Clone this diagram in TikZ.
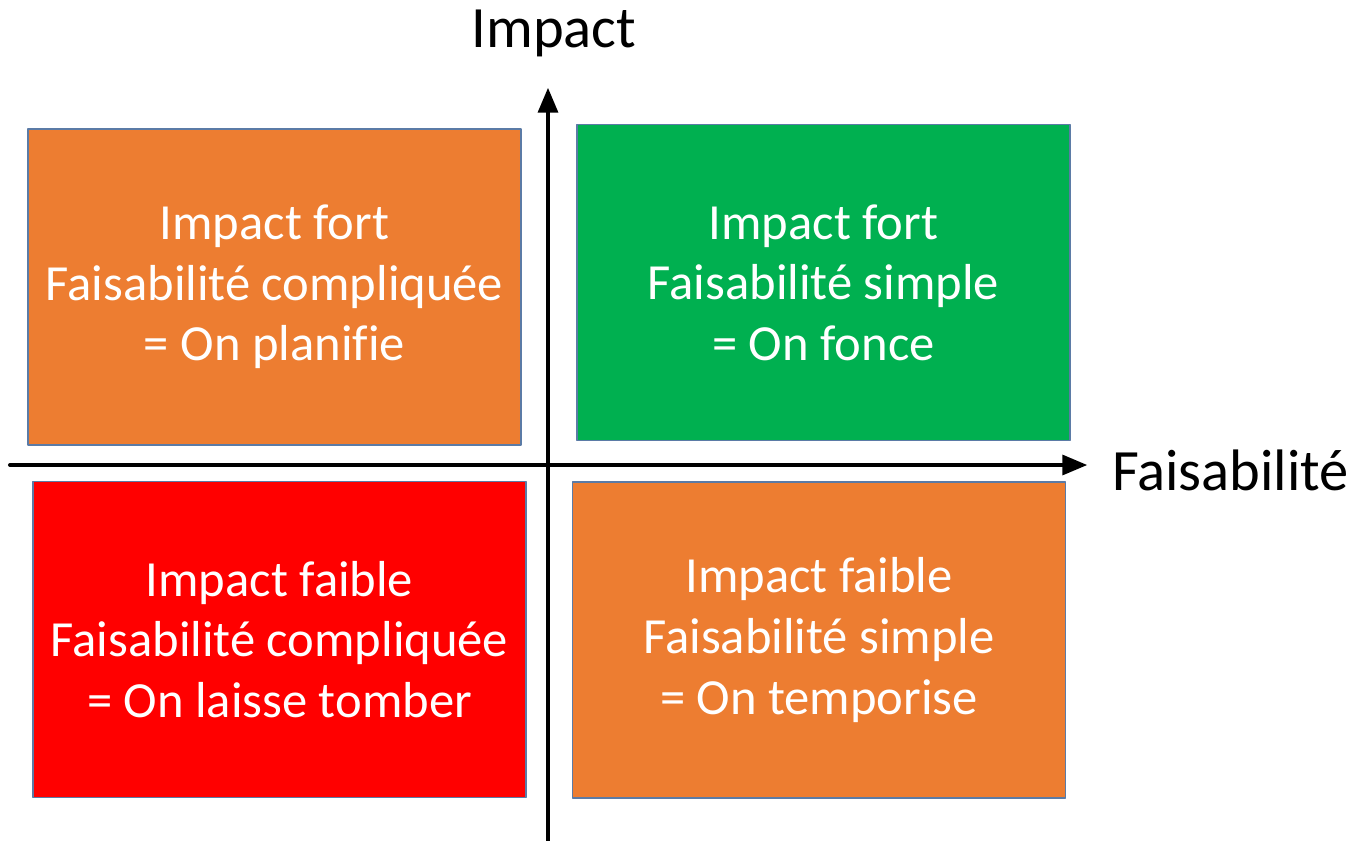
\documentclass[tikz,border=0pt]{standalone}
\usepackage{fontspec}
\setmainfont[Ligatures=NoCommon]{Carlito}
\usepackage{tikz}
\usetikzlibrary{arrows}

\definecolor{orangebox}{HTML}{ED7D31}
\definecolor{greenbox}{HTML}{00B050}
\definecolor{redbox}{HTML}{FF0000}
\definecolor{boxline}{HTML}{5B7BA6}

\tikzset{
  quadrant/.style={draw=boxline,line width=0.7pt,text=white,align=center,
    minimum width=9.86cm,minimum height=6.32cm,inner sep=0pt,
    font=\fontsize{28.8}{34.5}\selectfont},
  axislabel/.style={font=\fontsize{33.3}{40}\selectfont}
}

\begin{document}
\begin{tikzpicture}[line cap=round,line join=round,>=triangle 45,x=0.02cm,y=-0.02cm]
\useasboundingbox (0,0) rectangle (1353,840);
% quadrants
\node[quadrant,fill=orangebox] (hautgauche) at (274.5,287) {Impact fort\\Faisabilité compliquée\\= On planifie};
\node[quadrant,fill=greenbox] (hautdroite) at (823.5,282.5) {Impact fort\\Faisabilité simple\\= On fonce};
\node[quadrant,fill=redbox] (basgauche) at (279.5,639.5) {Impact faible\\Faisabilité compliquée\\= On laisse tomber};
\node[quadrant,fill=orangebox] (basdroite) at (819,640) {Impact faible\\Faisabilité simple\\= On temporise};
% axes
\coordinate (xdebut) at (10,465);
\coordinate (xfin) at (1087,465);
\coordinate (ydebut) at (548,842);
\coordinate (yfin) at (548,88);
\draw[->,line width=2.3pt] (xdebut) -- (xfin);
\draw[->,line width=2.3pt] (ydebut) -- (yfin);
\node[axislabel] (impact) at (554,33) {Impact};
\node[axislabel,anchor=west] (faisab) at (1106,470) {Faisabilité};
\end{tikzpicture}
\end{document}
